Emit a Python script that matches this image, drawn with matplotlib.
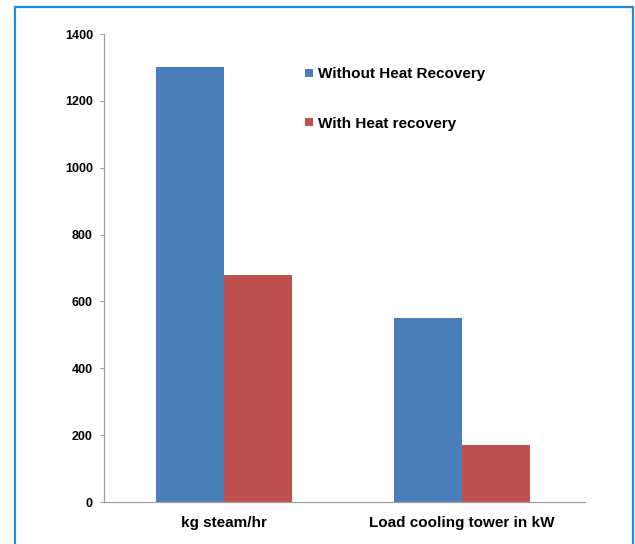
import matplotlib.pyplot as plt
import matplotlib.patches as mpatches
import numpy as np

plt.rcParams['font.family'] = ['Liberation Sans', 'DejaVu Sans']

categories = ["kg steam/hr", "Load cooling tower in kW"]
without_recovery = [1300, 550]
with_recovery = [680, 170]
series_names = ["Without Heat Recovery", "With Heat recovery"]
yticks = [0, 200, 400, 600, 800, 1000, 1200, 1400]

BLUE = "#4a7ebb"
RED = "#c0504d"
FRAME = "#1e8fd6"

fig = plt.figure(figsize=(6.35, 5.44), dpi=100)
ax = fig.add_axes([0.1638, 0.0772, 0.7575, 0.8603])

x = np.arange(len(categories))
width = 0.286
ax.bar(x - width / 2, without_recovery, width, color=BLUE, label=series_names[0])
ax.bar(x + width / 2, with_recovery, width, color=RED, label=series_names[1])

ax.set_xlim(-0.504, 1.517)
ax.set_ylim(0, 1400)
ax.set_yticks(yticks)
ax.set_yticklabels([str(v) for v in yticks], fontsize=9, fontweight="bold")
ax.set_xticks(x)
ax.set_xticklabels(categories, fontsize=11, fontweight="bold")
ax.tick_params(axis="x", length=0, pad=10)
ax.tick_params(axis="y", length=3, width=0.8, color="#a0a0a0", pad=5)

for side in ["top", "right"]:
    ax.spines[side].set_visible(False)
for side in ["left", "bottom"]:
    ax.spines[side].set_color("#a0a0a0")
    ax.spines[side].set_linewidth(0.9)

leg = ax.legend(loc="upper left", bbox_to_anchor=(0.39, 0.958), frameon=False,
                prop={"size": 11, "weight": "bold"}, handlelength=0.5,
                handleheight=0.5, handletextpad=0.3, labelspacing=2.3)

# blue frame around the whole figure
fig.patches.append(mpatches.Rectangle((0.0236, -0.02), 0.9734, 1.007,
                                      transform=fig.transFigure, fill=False,
                                      edgecolor=FRAME, linewidth=1.6))

fig.savefig("out.png", dpi=100)
